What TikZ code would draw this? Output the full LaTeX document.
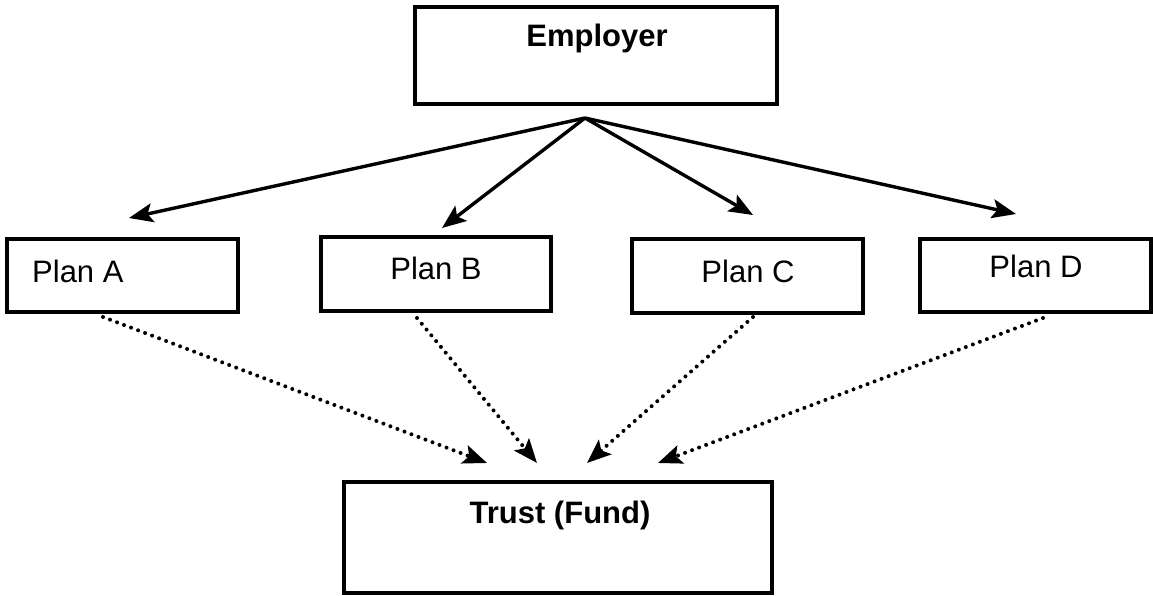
\documentclass[tikz,border=0pt]{standalone}
\usepackage{fontspec}
\setmainfont{Liberation Sans}
\usetikzlibrary{arrows.meta}
\begin{document}
\begin{tikzpicture}[x=1pt,y=-1pt,
  boxnode/.style={draw,line width=3.5pt,rectangle,inner sep=0pt,outer sep=0pt},
  txt/.style={inner sep=0pt,font=\fontsize{31pt}{37pt}\selectfont},
  btxt/.style={txt,font=\fontsize{31pt}{37pt}\selectfont\bfseries},
  tipstyle/.style={-{Stealth[length=24pt,width=19pt,inset=5pt]}},
  solidarrow/.style={line width=3.4pt,tipstyle},
  dotarrow/.style={line width=4pt,line cap=round,dash pattern=on 0pt off 7.5pt,tipstyle}]
\useasboundingbox (0,0) rectangle (1153,596);
\fill[white] (0,0) rectangle (1153,596);
% boxes
\node[boxnode,minimum width=362pt,minimum height=97pt] (emp) at (596,55.5) {};
\node[boxnode,minimum width=231pt,minimum height=73pt] (pa) at (122.5,275.5) {};
\node[boxnode,minimum width=230pt,minimum height=74pt] (pb) at (436,274) {};
\node[boxnode,minimum width=231pt,minimum height=74pt] (pc) at (747.5,276) {};
\node[boxnode,minimum width=231pt,minimum height=73pt] (pd) at (1035.5,275.5) {};
\node[boxnode,minimum width=428pt,minimum height=111pt] (trust) at (558,537.5) {};
% texts
\node[btxt,anchor=base] (tEmp) at (597,47) {Employer};
\node[txt,anchor=base west] (tA) at (32,282) {Plan A};
\node[txt,anchor=base] (tB) at (436,279) {Plan B};
\node[txt,anchor=base] (tC) at (748,282) {Plan C};
\node[txt,anchor=base] (tD) at (1036,277) {Plan D};
\node[btxt,anchor=base] (tTrust) at (560,523) {Trust (Fund)};
% connector points
\coordinate (apex) at (585,118);
\coordinate (ea) at (129,218);
\coordinate (eb) at (442,228);
\coordinate (ec) at (753,215);
\coordinate (ed) at (1016,214);
\coordinate (sa) at (103,317);
\coordinate (sb) at (417,318);
\coordinate (sc) at (753,317);
\coordinate (sd) at (1043,318);
\coordinate (ta) at (487,463);
\coordinate (tb) at (537,463);
\coordinate (tc) at (587,463);
\coordinate (td) at (658,463);
% solid arrows
\draw[solidarrow] (apex) -- (ea);
\draw[solidarrow] (apex) -- (eb);
\draw[solidarrow] (apex) -- (ec);
\draw[solidarrow] (apex) -- (ed);
% dotted arrows
\draw[dotarrow] (sa) -- (ta);
\draw[dotarrow] (sb) -- (tb);
\draw[dotarrow] (sc) -- (tc);
\draw[dotarrow] (sd) -- (td);
\end{tikzpicture}
\end{document}
